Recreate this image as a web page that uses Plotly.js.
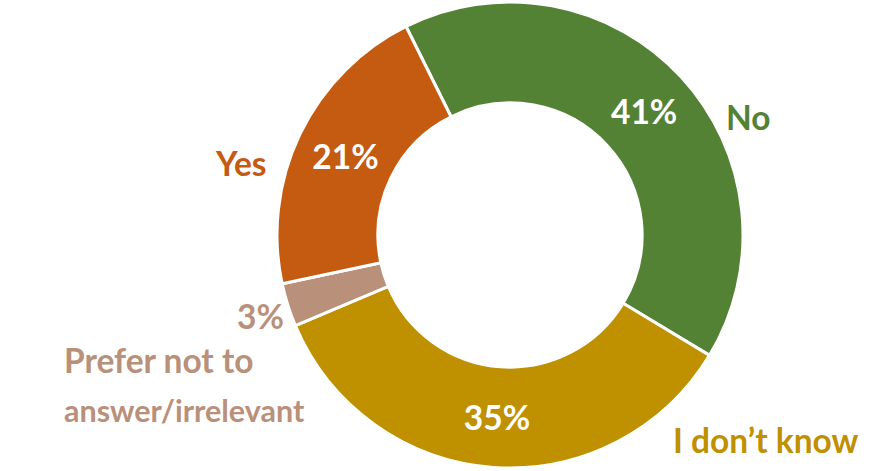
<!DOCTYPE html>
<html>
<head>
<meta charset="utf-8">
<script src="https://cdn.plot.ly/plotly-3.0.1.min.js"></script>
<style>html,body{margin:0;padding:0;background:#fff;}#chart{width:879px;height:471px;}</style>
</head>
<body>
<div id="chart"></div>
<script>
const categories = ["No", "I don\u2019t know", "Prefer not to<br>answer/irrelevant", "Yes"];
const values = [41, 35, 3, 21];
const colors = ["#548235", "#BF9000", "#B9907A", "#C55A11"];

const FONT = "Lato, 'Open Sans', sans-serif";
const FS = 33.5;

const trace = {
  type: "pie",
  labels: categories,
  values: values,
  sort: false,
  direction: "clockwise",
  rotation: -26.5,
  hole: 0.567,
  marker: {colors: colors, line: {color: "#ffffff", width: 3}},
  texttemplate: values.map(v => v >= 5 ? "%{value}%" : ""),
  textposition: "inside",
  insidetextorientation: "horizontal",
  textfont: {family: FONT, size: FS, color: "#ffffff", weight: "bold"},
  hoverinfo: "label+percent",
  domain: {x: [277/879, 743/879], y: [3/471, 469/471]}
};

const preferLines = categories[2].split("<br>");

const annotations = [
  {x: 724/879, y: 1 - 117/471, text: categories[0], color: colors[0], xanchor: "left"},
  {x: 671/879, y: 1 - 440/471, text: categories[1], color: colors[1], xanchor: "left"},
  {x: 62/879, y: 1 - 360/471, text: preferLines[0], color: colors[2], xanchor: "left"},
  {x: 62/879, y: 1 - 410/471, text: preferLines[1], color: colors[2], xanchor: "left", size: 30.5},
  {x: 286/879, y: 1 - 316/471, text: values[2] + "%", color: colors[2], xanchor: "right"},
  {x: 269/879, y: 1 - 163/471, text: categories[3], color: colors[3], xanchor: "right"}
].map(a => ({
  xref: "paper", yref: "paper", x: a.x, y: a.y, text: a.text,
  xanchor: a.xanchor, yanchor: "middle", align: "left",
  showarrow: false,
  font: {family: FONT, size: a.size || FS, color: a.color, weight: "bold"}
}));

const layout = {
  width: 879, height: 471,
  margin: {l: 0, r: 0, t: 0, b: 0},
  paper_bgcolor: "#ffffff",
  showlegend: false,
  annotations: annotations
};

Plotly.newPlot("chart", [trace], layout, {displayModeBar: false, staticPlot: true});
</script>
</body>
</html>
